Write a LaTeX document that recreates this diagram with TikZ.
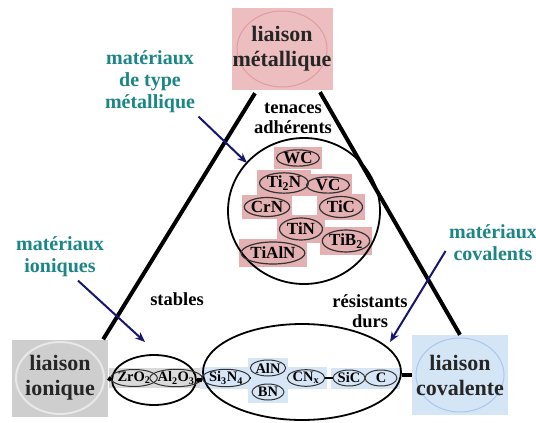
\documentclass[tikz,border=0pt]{standalone}
\usepackage{fontspec}
\setmainfont{Liberation Serif}
\usetikzlibrary{positioning, shapes.geometric, arrows.meta, fit, backgrounds, calc}
\definecolor{metpink}{RGB}{236,190,192}
\definecolor{metedge}{RGB}{226,156,160}
\definecolor{boxpink}{RGB}{229,176,178}
\definecolor{iongray}{RGB}{206,206,206}
\definecolor{ionedge}{RGB}{232,232,232}
\definecolor{stripgray}{RGB}{218,218,218}
\definecolor{covblue}{RGB}{212,229,246}
\definecolor{covedge}{RGB}{170,200,236}
\definecolor{stripblue}{RGB}{214,230,246}
\definecolor{tealtext}{RGB}{28,134,134}
\definecolor{arrownavy}{RGB}{22,22,112}

\begin{document}
\begin{tikzpicture}[
        x=1pt, y=-1pt,
        liaison/.style={inner sep=0pt, align=center, text=black!85, font=\fontsize{22}{25}\selectfont\bfseries},
        bond/.style={line width=4pt, black},
        family/.style={ellipse, draw=black, line width=1.8pt, inner sep=0pt},
        comp/.style={ellipse, draw=black!80, line width=1.2pt, inner sep=0pt, minimum width=43pt, minimum height=19pt, font=\fontsize{17}{17}\selectfont\bfseries},
        small/.style={ellipse, draw=black!80, line width=1pt, inner sep=0pt, minimum width=32pt, minimum height=16pt, font=\fontsize{14.5}{15}\selectfont\bfseries},
        tag/.style={align=center, font=\fontsize{18.5}{20}\selectfont\bfseries},
        matlbl/.style={align=center, text=tealtext, font=\fontsize{20}{22}\selectfont\bfseries},
        pointer/.style={-{Stealth[length=10pt, width=8pt]}, line width=2pt, arrownavy}
    ]
        \useasboundingbox (0,0) rectangle (536,423);

        \node[liaison, fill=metpink, minimum width=101pt, minimum height=82pt,
              path picture={\draw[metedge, line width=1pt] (path picture bounding box.center) ellipse [x radius=45pt, y radius=38pt];}] (met) at (282,49) {liaison\\métallique};
        \node[liaison, fill=iongray, minimum width=96pt, minimum height=77pt,
              path picture={\draw[ionedge, line width=2pt] (path picture bounding box.center) ellipse [x radius=44pt, y radius=36pt];}] (ion) at (60,378) {liaison\\ionique};
        \node[liaison, fill=covblue, minimum width=96pt, minimum height=80pt,
              path picture={\draw[covedge, line width=1pt] (path picture bounding box.center) ellipse [x radius=44pt, y radius=37pt];}] (cov) at (460,375) {liaison\\covalente};

        \node[family, minimum width=152pt, minimum height=146pt] (metfam) at (304,211) {};
        \node[family, minimum width=84pt, minimum height=50pt] (ionfam) at (154,380) {};
        \node[family, minimum width=198pt, minimum height=96pt] (covfam) at (302,372) {};

        \node[comp, minimum height=13pt] (wc) at (298,158) {WC};
        \node[comp, minimum height=17pt] (ti2n) at (284,183) {Ti\textsubscript{2}N};
        \node[comp, minimum height=14pt] (vc) at (328,185) {VC};
        \node[comp] (crn) at (267,207) {CrN};
        \node[comp, minimum height=21pt] (tic) at (341,207) {TiC};
        \node[comp, minimum height=22pt] (tin) at (301,229) {TiN};
        \node[comp, minimum height=22pt] (tib) at (346,241) {TiB\textsubscript{2}};
        \node[comp, minimum height=22pt, minimum width=46pt] (tialn) at (273,253) {TiAlN};

        \node[small, minimum width=42pt, minimum height=17pt] (zro) at (134,378) {ZrO\textsubscript{2}};
        \node[small, minimum width=42pt, minimum height=17pt] (alo) at (176,378) {Al\textsubscript{2}O\textsubscript{3}};
        \node[small, minimum width=44pt] (si) at (226,378) {Si\textsubscript{3}N\textsubscript{4}};
        \node[small] (aln) at (268,368) {AlN};
        \node[small] (bn) at (268,392) {BN};
        \node[small, minimum width=34pt] (cnx) at (306,378) {CN\textsubscript{x}};
        \node[small] (sic) at (349,378) {SiC};
        \node[small] (cc) at (381,378) {C};

        \begin{scope}[on background layer]
            \fill[white] (0,0) rectangle (536,423);
            \foreach \c in {wc,ti2n,vc,crn,tic,tin,tib,tialn}
                \node[fit=(\c), fill=boxpink, inner sep=2pt] {};
            \node[fit=(zro)(alo), fill=stripgray, inner sep=1pt] {};
            \node[fit=(si), fill=stripblue, inner sep=2pt] {};
            \node[fit=(aln)(bn), fill=stripblue, inner sep=2pt] {};
            \node[fit=(cnx), fill=stripblue, inner sep=2pt] {};
            \node[fit=(sic)(cc), fill=stripblue, inner sep=2pt] {};
        \end{scope}

        \draw[bond] ([xshift=-27pt,yshift=-3pt]met.south) -- ([xshift=-5pt]ion.north east);
        \draw[bond] ([xshift=38pt,yshift=-2pt]met.south) -- (cov.north);
        \draw[bond] (ion.east) -- (ionfam.west);
        \draw[bond] (ionfam.east) -- (ionfam.east -| covfam.west);
        \draw[bond] (cov.west -| covfam.east) -- (cov.west);
        \draw[line width=1.5pt] (si.east) -- (si.east -| aln.west);
        \draw[line width=1.5pt] (cnx.east) -- (sic.west);

        \node[tag] (tenace) at (293,118) {tenaces\\adhérents};
        \node[tag] (stable) at (177,299) {stables};
        \node[tag] (resist) at (370,311) {résistants\\durs};

        \node[matlbl] (lblmet) at (150,82) {matériaux\\de type\\métallique};
        \node[matlbl] (lblion) at (60,257) {matériaux\\ioniques};
        \node[matlbl] (lblcov) at (493,243) {matériaux\\covalents};

        \coordinate (tipmet) at (247,163);
        \coordinate (tipion) at (145,342);
        \coordinate (tipcov) at (390,342);

        \draw[pointer] (lblmet.south east) -- (tipmet);
        \draw[pointer] ([xshift=18pt]lblion.south) -- (tipion);
        \draw[pointer] ([yshift=-8pt]lblcov.west) -- (tipcov);
    \end{tikzpicture}
\end{document}
